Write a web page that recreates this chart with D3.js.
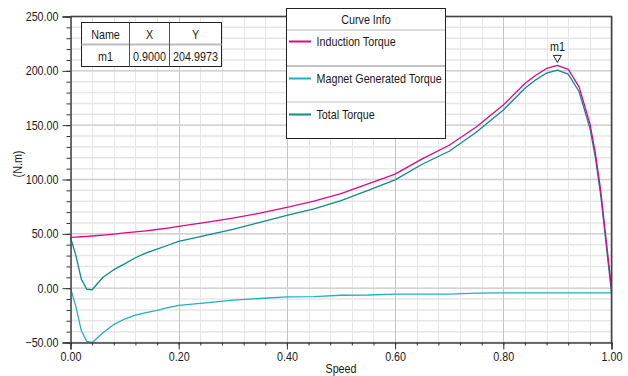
<!DOCTYPE html>
<html>
<head>
<meta charset="utf-8">
<script src="https://cdn.jsdelivr.net/npm/d3@7"></script>
<style>
  html, body { margin: 0; padding: 0; background: #fff; }
  svg { display: block; }
  text { font-family: "Liberation Sans", Arial, sans-serif; fill: #1a1a1a; }
</style>
</head>
<body>
<svg id="chart" width="628" height="376"></svg>
<script>
// ---- data ----
const speed = [0, 0.01, 0.02, 0.03, 0.04, 0.06, 0.08, 0.10, 0.12, 0.14, 0.16, 0.18, 0.20, 0.25, 0.30, 0.35, 0.40, 0.45, 0.50, 0.55, 0.60, 0.65, 0.70, 0.75, 0.80, 0.84, 0.86, 0.88, 0.90, 0.92, 0.94, 0.96, 0.97, 0.98, 0.99, 1.00];
const inductionTorque = [46.8, 47.0, 47.3, 47.6, 48.0, 48.8, 49.8, 50.8, 51.8, 52.8, 54.0, 55.3, 56.8, 60.5, 64.5, 69.0, 74.3, 80.0, 87.0, 96.0, 105.0, 119.0, 131.5, 148.3, 168.5, 188.4, 196.0, 202.2, 205.0, 201.3, 185.3, 151.7, 125.0, 90.0, 45.0, 0.0];
const magnetTorque = [0, -17, -39, -49, -50, -41, -33.5, -28.4, -24.8, -22.5, -20.5, -18.0, -15.9, -13.5, -11.0, -9.5, -8.0, -7.8, -6.5, -6.3, -5.4, -5.4, -5.4, -4.5, -4.3, -4.3, -4.3, -4.3, -4.3, -4.3, -4.3, -4.3, -4.3, -4.3, -4.3, -4.3];
const totalTorque = [46.8, 30.0, 8.3, -1.0, -1.5, 10.0, 17.0, 22.4, 28.0, 32.5, 36.0, 39.5, 43.0, 48.5, 54.0, 60.5, 67.0, 73.0, 80.5, 90.0, 99.7, 114.0, 126.0, 143.5, 164.0, 184.0, 191.7, 198.0, 200.7, 197.0, 181.0, 147.4, 120.7, 85.7, 40.7, -4.3];

const seriesNames = ["Induction Torque", "Magnet Generated Torque", "Total Torque"];
const seriesColors = ["#e0068a", "#1fb0c6", "#0e8b8b"];
const xTicks = [0, 0.2, 0.4, 0.6, 0.8, 1.0];
const xMinorTicks = d3.range(0, 1.0001, 0.04);
const yTicks = [-50, 0, 50, 100, 150, 200, 250];
const yMinorTicks = d3.range(-50, 250.001, 10);
const xLabel = "Speed";
const yLabel = "(N.m)";

const markerName = "m1";
const markerX = 0.9;
const markerY = 204.9973;
const tableHeaders = ["Name", "X", "Y"];
const tableRow = ["m1", "0.9000", "204.9973"];
const legendTitle = "Curve Info";

// ---- layout ----
const svg = d3.select("#chart");
const L = 70.5, R = 611.5, T = 16.5, B = 342.5;
const SX = 0.86; // horizontal text condensation
const FS = 12.5;

const x = d3.scaleLinear().domain([0, 1]).range([L, R]);
const y = d3.scaleLinear().domain([-50, 250]).range([B, T]);

function condText(sel) {
  sel.each(function () {
    const t = d3.select(this);
    const xv = +t.attr("x") || 0;
    t.attr("x", xv / SX).attr("transform", `scale(${SX},1)`);
  });
}
function ctext(g, tx, ty, str, anchor, size) {
  return g.append("text")
    .attr("transform", `translate(${tx},${ty}) scale(${SX},1)`)
    .attr("text-anchor", anchor || "start")
    .style("font-size", (size || FS) + "px")
    .text(str);
}

// ---- grid ----
const grid = svg.append("g");
grid.selectAll(".vmin").data(xMinorTicks).join("line")
  .attr("x1", d => Math.round(x(d)) + 0.5).attr("x2", d => Math.round(x(d)) + 0.5)
  .attr("y1", T).attr("y2", B).attr("stroke", "#e6e6e6").attr("stroke-width", 1);
grid.selectAll(".hmin").data(yMinorTicks).join("line")
  .attr("x1", L).attr("x2", R)
  .attr("y1", d => y(d)).attr("y2", d => y(d)).attr("stroke", "#e6e6e6").attr("stroke-width", 1.5);
grid.selectAll(".vmaj").data(xTicks).join("line")
  .attr("x1", d => Math.round(x(d)) + 0.5).attr("x2", d => Math.round(x(d)) + 0.5)
  .attr("y1", T).attr("y2", B).attr("stroke", "#c4c4c4").attr("stroke-width", 1);
grid.selectAll(".hmaj").data(yTicks).join("line")
  .attr("x1", L).attr("x2", R)
  .attr("y1", d => y(d)).attr("y2", d => y(d)).attr("stroke", "#d2d2d2").attr("stroke-width", 1.5);

// ---- curves ----
const seriesData = [inductionTorque, magnetTorque, totalTorque];
const line = d3.line().x((d, i) => x(speed[i])).y(d => y(d));
const curves = svg.append("g");
[1, 2, 0].forEach(k => {
  curves.append("path")
    .datum(seriesData[k])
    .attr("d", line)
    .attr("fill", "none")
    .attr("stroke", seriesColors[k])
    .attr("stroke-width", 1.3)
    .attr("stroke-linejoin", "round");
});

// ---- frame ----
svg.append("path")
  .attr("d", `M${L},${T}H${R}V${B}`)
  .attr("fill", "none").attr("stroke", "#444").attr("stroke-width", 1.5);

// ---- axes ----
const yAxis = svg.append("g").attr("transform", `translate(${L},0)`)
  .call(d3.axisLeft(y).tickValues(yTicks).tickSize(8).tickPadding(4).tickFormat(d3.format(".2f")));
svg.append("g").attr("transform", `translate(${L},0)`)
  .call(d3.axisLeft(y).tickValues(yMinorTicks).tickSize(4).tickFormat(""))
  .call(g => g.select(".domain").remove());
const xAxis = svg.append("g").attr("transform", `translate(0,${B})`)
  .call(d3.axisBottom(x).tickValues(xTicks).tickSize(7).tickPadding(3).tickFormat(d3.format(".2f")));
svg.append("g").attr("transform", `translate(0,${B})`)
  .call(d3.axisBottom(x).tickValues(xMinorTicks).tickSize(3).tickFormat(""))
  .call(g => g.select(".domain").remove());

svg.selectAll(".domain").attr("stroke", "#444").attr("stroke-width", 1.5);
svg.selectAll(".tick line").attr("stroke", "#333");
[yAxis, xAxis].forEach(a => {
  a.selectAll("text").style("font-size", FS + "px").style("font-family", "'Liberation Sans', Arial, sans-serif").attr("fill", "#1a1a1a");
  condText(a.selectAll("text"));
});

// axis titles
ctext(svg, (L + R) / 2, 373, xLabel, "middle");
svg.append("text")
  .attr("transform", `translate(22,164) rotate(-90) scale(${SX},1)`)
  .attr("text-anchor", "middle")
  .style("font-size", FS + "px")
  .text(yLabel);

// ---- marker ----
const mx = x(markerX), my = y(markerY);
svg.append("path")
  .attr("d", `M${mx - 4},${my - 10}L${mx + 4},${my - 10}L${mx},${my - 3}Z`)
  .attr("fill", "none").attr("stroke", "#222").attr("stroke-width", 1);
ctext(svg, mx, my - 14, markerName, "middle");

// ---- marker table ----
const tb = svg.append("g");
const tX = [81.5, 129.5, 169.5, 221.5];
const tY0 = 22.5, tYm = 44.5, tY1 = 66.5;
tb.append("rect").attr("x", tX[0]).attr("y", tY0).attr("width", tX[3] - tX[0]).attr("height", tY1 - tY0)
  .attr("fill", "#fff").attr("stroke", "#222").attr("stroke-width", 1);
tb.append("line").attr("x1", tX[0]).attr("x2", tX[3]).attr("y1", tYm).attr("y2", tYm)
  .attr("stroke", "#bbb").attr("stroke-width", 2);
[tX[1], tX[2]].forEach(xx => tb.append("line").attr("x1", xx).attr("x2", xx).attr("y1", tY0).attr("y2", tY1)
  .attr("stroke", "#555").attr("stroke-width", 1));
tableHeaders.forEach((h, i) => ctext(tb, (tX[i] + tX[i + 1]) / 2, 38.5, h, "middle"));
tableRow.forEach((h, i) => ctext(tb, (tX[i] + tX[i + 1]) / 2, 60.5, h, "middle"));

// ---- legend ----
const lg = svg.append("g");
const lx0 = 286.5, lx1 = 445.5, ly0 = 8.5, ly1 = 138.5;
lg.append("rect").attr("x", lx0).attr("y", ly0).attr("width", lx1 - lx0).attr("height", ly1 - ly0)
  .attr("fill", "#fff").attr("stroke", "#222").attr("stroke-width", 1);
ctext(lg, (lx0 + lx1) / 2, 24, legendTitle, "middle");
const sepY = [30, 66, 102];
const sepC = ["#dcdcdc", "#c4c4c4", "#dedede"];
sepY.forEach((sy, i) => lg.append("line").attr("x1", lx0 + 0.5).attr("x2", lx1 - 0.5).attr("y1", sy).attr("y2", sy)
  .attr("stroke", sepC[i]).attr("stroke-width", 2));
const rowY = [41.5, 78.5, 114.5];
seriesNames.forEach((name, i) => {
  lg.append("line").attr("x1", 289).attr("x2", 311).attr("y1", rowY[i]).attr("y2", rowY[i])
    .attr("stroke", seriesColors[i]).attr("stroke-width", 2);
  ctext(lg, 316.5, rowY[i] + 4.5, name, "start");
});
</script>
</body>
</html>
